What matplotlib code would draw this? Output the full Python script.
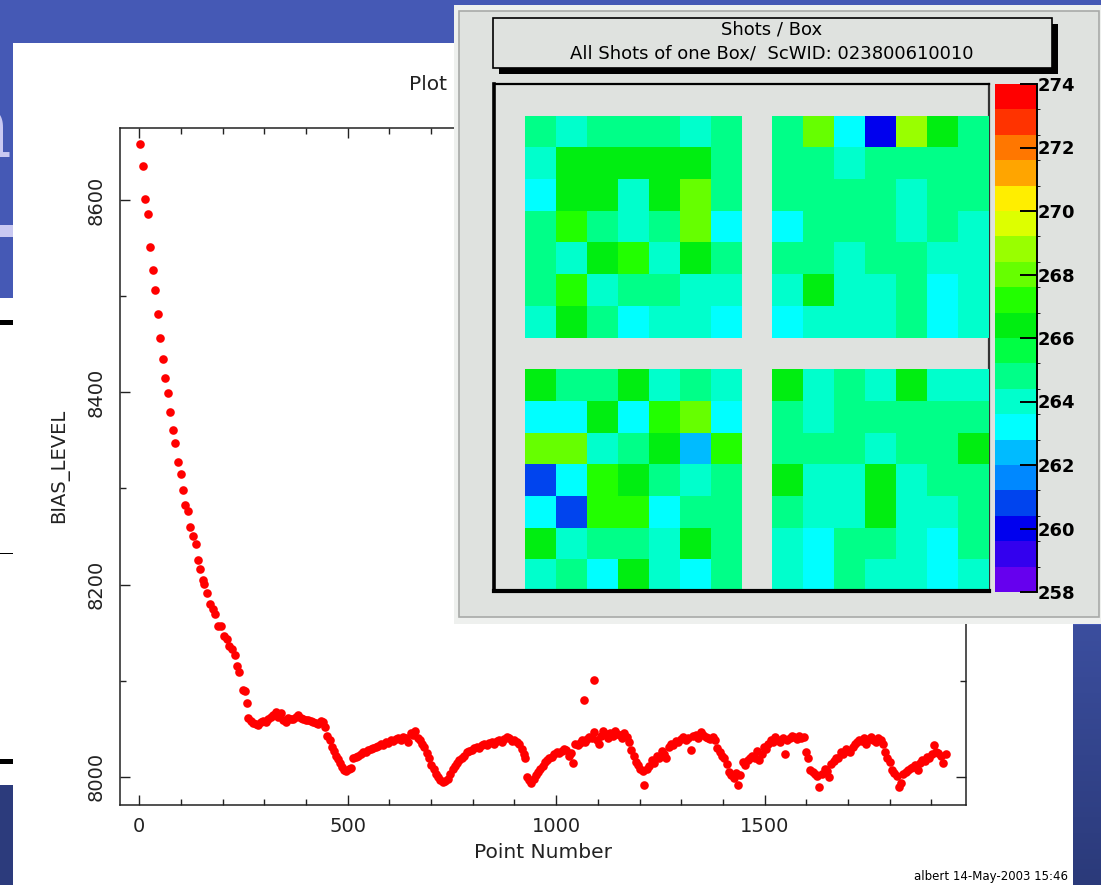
import numpy as np
import matplotlib.pyplot as plt
from matplotlib.patches import Rectangle
from matplotlib.colors import ListedColormap, BoundaryNorm, LinearSegmentedColormap

W, H = 1101, 885

# BIAS_LEVEL vs Point Number
# steep fall at the start
x_fall = [3, 9, 15, 21, 27, 32, 38, 45, 50, 56, 63, 70, 75, 81, 87, 94, 100, 106, 111, 118,
          123, 129, 136, 142, 146, 152, 156, 162, 170, 178, 182, 190, 197, 203, 210, 216, 222, 230,
          234, 240, 248, 254, 258]
y_fall = [8658, 8635, 8601, 8586, 8551, 8527, 8506, 8481, 8457, 8435, 8415, 8399, 8380, 8361, 8347,
          8327, 8315, 8298, 8283, 8276, 8260, 8251, 8242, 8226, 8216, 8205, 8201, 8191, 8180, 8175,
          8169, 8157, 8157, 8146, 8143, 8136, 8133, 8127, 8115, 8109, 8090, 8089, 8077]
# flat part and the first dip
x_flat = [262, 267, 273, 279, 285, 291, 297, 303, 309, 315, 321, 327, 333, 339, 345, 351, 357, 363,
          369, 375, 381, 387, 393, 399, 405, 411, 417, 423, 429, 435, 441,
          446, 451, 457, 462, 467, 472, 477, 482, 487, 492, 497, 503, 508]
y_flat = [8061, 8058, 8056, 8055, 8054, 8057, 8058, 8057, 8060, 8062, 8064, 8067, 8062, 8066, 8059,
          8057, 8061, 8060, 8060, 8062, 8064, 8061, 8060, 8059, 8059, 8058, 8057, 8056, 8055, 8058, 8057,
          8052, 8042, 8038, 8031, 8027, 8022, 8018, 8014, 8010, 8007, 8006, 8008, 8009]
# saw-tooth cycles 500 - 1000
x_cyc1 = [514, 519, 525, 531, 537, 543, 549, 555, 561, 567, 573, 579, 585, 591, 597, 603, 609, 615,
          621, 627, 633, 639, 645, 651, 657, 662,
          668, 673, 678, 684, 690, 695, 700, 706, 712, 717, 722, 728,
          734, 740, 746, 752, 757, 762, 768, 774, 780, 786, 792, 798, 804, 810, 816, 822, 828, 834,
          840, 846, 852, 858, 864, 870, 876, 882, 888, 894, 900, 906, 912,
          917, 922, 926, 930, 935, 940]
y_cyc1 = [8019, 8021, 8022, 8024, 8026, 8026, 8028, 8029, 8030, 8031, 8032, 8034, 8033, 8036, 8035,
          8038, 8037, 8039, 8040, 8038, 8041, 8040, 8036, 8045, 8043, 8048,
          8040, 8038, 8034, 8031, 8025, 8020, 8012, 8008, 8003, 8000, 7997, 7995,
          7996, 7998, 8003, 8008, 8011, 8014, 8017, 8019, 8022, 8026, 8027, 8028, 8030, 8031, 8030,
          8033, 8034, 8033, 8035, 8036, 8034, 8037, 8038, 8036, 8039, 8041, 8040, 8037, 8038, 8036, 8034,
          8029, 8024, 8019, 8000, 7997, 7994]
# saw-tooth cycles 940 - 1440 (with the two high points near 1070-1090)
x_cyc2 = [946, 951, 957, 962, 968, 973, 979, 984, 990, 996, 1001, 1007, 1013, 1018, 1024, 1030,
          1036, 1040, 1046, 1068, 1090,
          1052, 1058, 1063, 1069, 1075, 1080, 1086, 1092, 1097, 1102, 1108, 1113, 1119, 1125, 1130,
          1136, 1141, 1147, 1152, 1158, 1163, 1169,
          1174, 1180, 1186, 1191, 1197, 1202, 1208, 1211,
          1217, 1223, 1229, 1235, 1241, 1247, 1253, 1259, 1264, 1270, 1275, 1281, 1287, 1293, 1299,
          1305, 1311, 1317, 1323, 1329, 1335, 1341, 1347, 1353, 1359,
          1365, 1370, 1376, 1381, 1387, 1392, 1398, 1403, 1409, 1414, 1420, 1426, 1431, 1437]
y_cyc2 = [7998, 8002, 8005, 8008, 8011, 8015, 8017, 8020, 8021, 8024, 8026, 8025, 8027, 8029, 8028,
          8022, 8025, 8014, 8034, 8080, 8101,
          8033, 8035, 8038, 8036, 8039, 8041, 8040, 8047, 8038, 8034, 8042, 8048, 8044, 8040, 8045,
          8042, 8048, 8044, 8043, 8040, 8046, 8041,
          8036, 8028, 8022, 8015, 8012, 8008, 8006, 7991,
          8008, 8011, 8017, 8014, 8022, 8020, 8027, 8024, 8019, 8031, 8034, 8033, 8037, 8036, 8039,
          8041, 8038, 8040, 8028, 8042, 8043, 8040, 8047, 8043, 8041,
          8040, 8039, 8041, 8038, 8030, 8026, 8022, 8019, 8013, 8005, 8002, 7999, 8004, 7991]
# saw-tooth cycles 1440 - end
x_cyc3 = [1442, 1448, 1454, 1459, 1465, 1470, 1476, 1481, 1487, 1493, 1498, 1504, 1509, 1515, 1521,
          1526, 1532, 1537, 1543, 1548, 1554, 1560, 1566, 1571, 1577, 1583, 1588, 1594,
          1599, 1604, 1610, 1615, 1621, 1626, 1631,
          1638, 1644, 1649, 1655, 1660, 1666, 1671, 1677, 1683, 1688, 1694, 1700, 1705, 1711, 1716,
          1722, 1727, 1733, 1739, 1744, 1750, 1755, 1761, 1766, 1772, 1778,
          1783, 1789, 1794, 1800, 1805, 1811, 1817, 1822, 1828,
          1833, 1839, 1845, 1850, 1856, 1861, 1867, 1873, 1878, 1884, 1889, 1895, 1901, 1906, 1912,
          1917, 1923, 1928, 1934]
y_cyc3 = [8002, 8015, 8012, 8017, 8019, 8022, 8020, 8027, 8017, 8024, 8031, 8029, 8034, 8038, 8036,
          8041, 8038, 8036, 8040, 8024, 8038, 8040, 8042, 8041, 8039, 8042, 8040, 8041,
          8026, 8019, 8007, 8005, 8003, 8001, 7989,
          8003, 8008, 8006, 8000, 8013, 8016, 8020, 8019, 8026, 8024, 8029, 8027, 8026, 8031, 8034,
          8036, 8038, 8037, 8040, 8034, 8039, 8041, 8038, 8036, 8040, 8038,
          8034, 8026, 8020, 8015, 8007, 8004, 8001, 7989, 7994,
          8003, 8005, 8007, 8009, 8010, 8012, 8007, 8014, 8017, 8016, 8021, 8020, 8024, 8033, 8026,
          8025, 8022, 8014, 8024]

point_number = x_fall + x_flat + x_cyc1 + x_cyc2 + x_cyc3
bias_level = y_fall + y_flat + y_cyc1 + y_cyc2 + y_cyc3

# Shots / Box : four 7x7 blocks, rows listed top to bottom
block_top_left = [[264.8, 264.0, 264.8, 264.8, 264.8, 264.0, 264.8],
                  [264.0, 266.4, 266.4, 266.4, 266.4, 266.4, 264.8],
                  [263.2, 266.4, 266.4, 264.0, 266.4, 268.0, 264.8],
                  [264.8, 267.2, 264.8, 264.0, 264.8, 268.0, 263.2],
                  [264.8, 264.0, 266.4, 267.2, 264.0, 266.4, 264.8],
                  [264.8, 267.2, 264.0, 264.8, 264.8, 264.0, 264.0],
                  [264.0, 266.4, 264.8, 263.2, 264.0, 264.0, 263.2]]
block_top_right = [[264.8, 268.0, 263.2, 260.0, 268.8, 266.4, 264.8],
                   [264.8, 264.8, 264.0, 264.8, 264.8, 264.8, 264.8],
                   [264.8, 264.8, 264.8, 264.8, 264.0, 264.8, 264.8],
                   [263.2, 264.8, 264.8, 264.8, 264.0, 264.8, 264.0],
                   [264.8, 264.8, 264.0, 264.8, 264.8, 264.0, 264.0],
                   [264.0, 266.4, 264.0, 264.0, 264.8, 263.2, 264.0],
                   [263.2, 264.0, 264.0, 264.0, 264.8, 263.2, 264.0]]
block_bottom_left = [[266.4, 264.8, 264.8, 266.4, 264.0, 264.8, 264.0],
                     [263.2, 263.2, 266.4, 263.2, 267.2, 268.0, 263.2],
                     [268.0, 268.0, 264.0, 264.8, 266.4, 262.4, 267.2],
                     [260.8, 263.2, 267.2, 266.4, 264.8, 264.0, 264.8],
                     [263.2, 260.8, 267.2, 267.2, 263.2, 264.8, 264.8],
                     [266.4, 264.0, 264.8, 264.8, 264.0, 266.4, 264.8],
                     [264.0, 264.8, 263.2, 266.4, 264.0, 263.2, 264.8]]
block_bottom_right = [[266.4, 264.0, 264.8, 264.0, 266.4, 264.0, 264.0],
                      [264.8, 264.0, 264.8, 264.8, 264.8, 264.8, 264.8],
                      [264.8, 264.8, 264.8, 264.0, 264.8, 264.8, 266.4],
                      [266.4, 264.0, 264.0, 266.4, 264.0, 264.8, 264.8],
                      [264.8, 264.0, 264.0, 266.4, 264.0, 264.0, 264.8],
                      [264.0, 263.2, 264.8, 264.8, 264.0, 263.2, 264.8],
                      [264.0, 263.2, 264.8, 264.0, 264.0, 263.2, 264.0]]
# 20 colour levels from 258 to 274 (bottom to top of the palette)
palette = ['#6600ee', '#3300ee', '#0000ee', '#0044ee', '#0088ff', '#00bbff', '#00ffff', '#00ffcc',
           '#00ff88', '#00ff44', '#00ee11', '#22ff00', '#66ff00', '#99ff00', '#ddff00', '#ffee00',
           '#ffa500', '#ff7700', '#ff3300', '#ff0000']
z_min, z_max = 258, 274
z_ticks = [258, 260, 262, 264, 266, 268, 270, 272, 274]

PANEL = '#dfe2df'

fig = plt.figure(figsize=(W / 100, H / 100), dpi=100, facecolor='#4559b5')


def px_rect(x0, y0, x1, y1):
    # pixel box measured from the top-left corner -> figure fraction
    return [x0 / W, 1 - y1 / H, (x1 - x0) / W, (y1 - y0) / H]


def add_box(x0, y0, x1, y1, z, **kw):
    l, b, w, h = px_rect(x0, y0, x1, y1)
    fig.add_artist(Rectangle((l, b), w, h, transform=fig.transFigure, zorder=z, **kw))


# slide background bits around the plot
fig.text(12 / W, 1 - 157 / H, 'n', ha='right', va='baseline', fontsize=64, family='DejaVu Serif',
         fontweight='bold', color='#c9c9f2', zorder=-9)
add_box(0, 225, 13, 237, -9, facecolor='#c9c9f2', lw=0)
add_box(13, 43, 1073, H, -8, facecolor='white', lw=0)
add_box(0, 298, 13, 785, -8, facecolor='white', lw=0)
add_box(0, 785, 13, H, -8, facecolor='#2c3b7c', lw=0)
add_box(0, 320, 13, 325, -7, facecolor='black', lw=0)
add_box(0, 553, 13, 554, -7, facecolor='black', lw=0)
add_box(0, 759, 13, 764, -7, facecolor='black', lw=0)
gax = fig.add_axes(px_rect(1073, 625, W, H), zorder=-7)
gax.imshow(np.linspace(0, 1, 50).reshape(-1, 1), aspect='auto',
           cmap=LinearSegmentedColormap.from_list('strip', ['#3b4e9e', '#2b3a7a']))
gax.axis('off')

# main scatter plot
ax = fig.add_axes(px_rect(120, 128, 966, 805), zorder=1)
ax.plot(point_number, bias_level, 'o', color='#ff0000', ms=6.2, mew=0)
ax.set_xlim(-46, 1983)
ax.set_ylim(7970.6, 8675)
ax.set_xticks([0, 500, 1000, 1500])
ax.set_xticks(np.arange(0, 2000, 100), minor=True)
ax.set_yticks([8000, 8200, 8400, 8600])
ax.set_yticks([8100, 8300, 8500], minor=True)
ax.tick_params(which='both', direction='in', top=True, right=True, width=1.0, colors='#222222')
ax.tick_params(which='major', length=7.5, labelsize=14)
ax.tick_params(which='minor', length=4)
ax.tick_params(axis='x', pad=9)
ax.tick_params(axis='y', pad=10)
for lab in ax.get_yticklabels():
    lab.set_rotation(90)
    lab.set_va('center')
for s in ax.spines.values():
    s.set_linewidth(1.1)
    s.set_color('#222222')
fig.text(60 / W, 1 - 466 / H, 'BIAS_LEVEL', rotation=90, ha='center', va='center', fontsize=14,
         color='#222222')
fig.text(543 / W, 1 - 852 / H, 'Point Number', ha='center', va='center', fontsize=14.5, color='#222222')
fig.text(409 / W, 1 - 90 / H, 'Plot', ha='left', va='baseline', fontsize=14.5, color='#222222')
fig.text(1068 / W, 1 - 880 / H, 'albert 14-May-2003 15:46', ha='right', va='baseline', fontsize=8.5,
         color='black')

# inset canvas: Shots / Box
add_box(454, 5, W, 624, 5, facecolor='#eef0ee', lw=0)
add_box(459, 11, 1099, 617, 5, facecolor=PANEL, edgecolor='#a8aaa8', lw=1.2)
add_box(499, 24, 1058, 74, 5, facecolor='black', lw=0)
add_box(493, 18, 1052, 68, 5, facecolor=PANEL, edgecolor='black', lw=1.2)
fig.text(772 / W, 1 - 29 / H, 'Shots / Box', ha='center', va='center', fontsize=13, zorder=7)
fig.text(772 / W, 1 - 53 / H, 'All Shots of one Box/  ScWID: 023800610010', ha='center', va='center',
         fontsize=13, zorder=7)

grid = np.full((16, 16), np.nan)
grid[1:8, 1:8] = block_top_left
grid[1:8, 9:16] = block_top_right
grid[9:16, 1:8] = block_bottom_left
grid[9:16, 9:16] = block_bottom_right

cmap = ListedColormap(palette)
norm = BoundaryNorm(np.linspace(z_min, z_max, len(palette) + 1), cmap.N)

hax = fig.add_axes(px_rect(494, 84, 989, 591), zorder=6)
hax.set_facecolor(PANEL)
mesh = hax.pcolormesh(np.arange(17), np.arange(17), grid, cmap=cmap, norm=norm, zorder=3)
hax.set_xlim(0, 16)
hax.set_ylim(16, 0)
hax.set_xticks([])
hax.set_yticks([])
hax.spines['left'].set_linewidth(2.6)
hax.spines['bottom'].set_linewidth(3)
hax.spines['top'].set_linewidth(1.6)
hax.spines['right'].set_linewidth(1.6)
hax.spines['right'].set_color('#333333')
hax.spines['right'].set_zorder(1)
for k in ['left', 'bottom', 'top']:
    hax.spines[k].set_zorder(5)

cax = fig.add_axes(px_rect(995, 84, 1037, 592), zorder=6)
cb = fig.colorbar(mesh, cax=cax, ticks=z_ticks)
cb.outline.set_visible(False)
cax.plot([1, 1], [z_min, z_max], color='black', lw=1.4, clip_on=False)
cax.tick_params(direction='in', length=12, width=1.4, pad=0.5, labelsize=13, color='black')
for lab in cax.get_yticklabels():
    lab.set_fontweight('bold')

fig.savefig('out.png', dpi=100, facecolor=fig.get_facecolor())
